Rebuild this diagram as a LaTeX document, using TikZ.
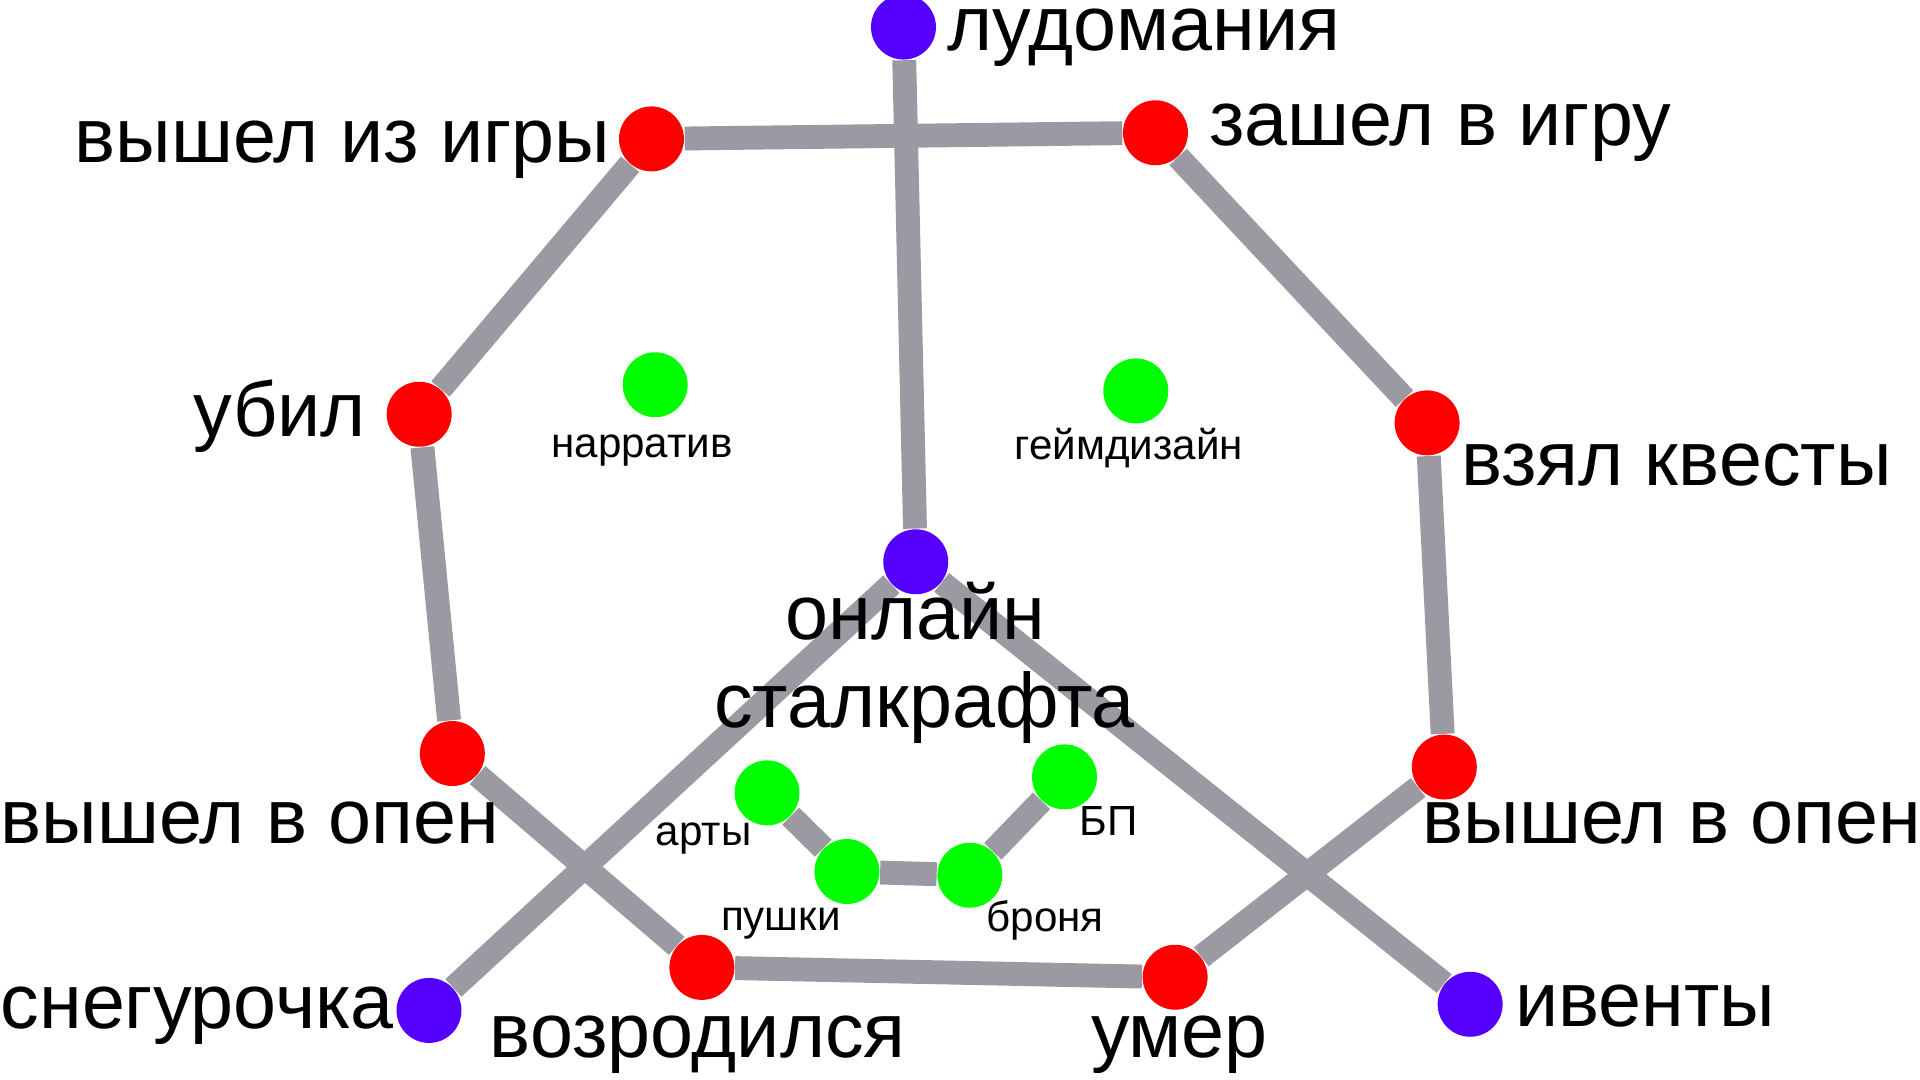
\documentclass[tikz,border=0pt]{standalone}
\usepackage{fontspec}
\setmainfont{Liberation Sans}
\usetikzlibrary{backgrounds}
\definecolor{cblue}{HTML}{5500FF}
\definecolor{cred}{HTML}{FF0000}
\definecolor{cgreen}{HTML}{00FF00}
\definecolor{cedge}{HTML}{9B99A1}
\tikzset{
  dot/.style={circle,inner sep=0pt,minimum size=0.65cm},
  bdot/.style={dot,fill=cblue},
  rdot/.style={dot,fill=cred},
  gdot/.style={dot,fill=cgreen},
  big/.style={inner sep=0pt,font=\fontsize{22}{26}\selectfont},
  small/.style={inner sep=0pt,font=\fontsize{12}{14}\selectfont},
  link/.style={draw=cedge,line width=6.8pt}
}
\begin{document}
\begin{tikzpicture}[x=0.012292cm,y=-0.012292cm]
\useasboundingbox (0,0) rectangle (1562,878.6);
% nodes
\node[bdot] (lud) at (735,22) {};
\node[rdot] (vyig) at (530,113) {};
\node[rdot] (zvi) at (940,108) {};
\node[rdot] (ubil) at (341,337) {};
\node[rdot] (kv) at (1161,344) {};
\node[bdot] (onl) at (745,457) {};
\node[rdot] (voL) at (368,613) {};
\node[rdot] (voR) at (1175,624) {};
\node[rdot] (voz) at (571,787) {};
\node[rdot] (umer) at (956,795) {};
\node[bdot] (sneg) at (349,822) {};
\node[bdot] (iv) at (1196,817) {};
\node[gdot] (nar) at (533,313) {};
\node[gdot] (gd) at (924,318) {};
\node[gdot] (art) at (624,645) {};
\node[gdot] (push) at (689,709) {};
\node[gdot] (bron) at (789,712) {};
\node[gdot] (bp) at (866,632) {};
% edges
\begin{scope}[on background layer]
\draw[link] (vyig) -- (zvi);
\draw[link] (lud) -- (onl);
\draw[link] (vyig) -- (ubil);
\draw[link] (ubil) -- (voL);
\draw[link] (voL) -- (voz);
\draw[link] (voz) -- (umer);
\draw[link] (umer) -- (voR);
\draw[link] (voR) -- (kv);
\draw[link] (kv) -- (zvi);
\draw[link] (onl) -- (sneg);
\draw[link] (onl) -- (iv);
\draw[link] (art) -- (push);
\draw[link] (push) -- (bron);
\draw[link] (bron) -- (bp);
\end{scope}
% labels
\node[big,anchor=base west] (tlud) at (770,41) {лудомания};
\node[big,anchor=base east] (tvyig) at (497,132) {вышел из игры};
\node[big,anchor=base west] (tzvi) at (983,118) {зашел в игру};
\node[big,anchor=base east] (tubil) at (298,355) {убил};
\node[big,anchor=base west] (tkv) at (1188,395) {взял квесты};
\node[big,anchor=base] (tonl1) at (745,520) {онлайн};
\node[big,anchor=base] (tonl2) at (752,592) {сталкрафта};
\node[big,anchor=base west] (tvoL) at (0,686) {вышел в опен};
\node[big,anchor=base west] (tvoR) at (1157,686) {вышел в опен};
\node[big,anchor=base west] (tsneg) at (0,837) {снегурочка};
\node[big,anchor=base west] (tvoz) at (398,860) {возродился};
\node[big,anchor=base west] (tumer) at (887,860) {умер};
\node[big,anchor=base west] (tiv) at (1232,835) {ивенты};
\node[small,anchor=base west] (tnar) at (448,372) {нарратив};
\node[small,anchor=base west] (tgd) at (825,374) {геймдизайн};
\node[small,anchor=base west] (tart) at (533,688) {арты};
\node[small,anchor=base west] (tpush) at (586,757) {пушки};
\node[small,anchor=base west] (tbron) at (802,758) {броня};
\node[small,anchor=base west] (tbp) at (878,680) {БП};
\end{tikzpicture}
\end{document}
